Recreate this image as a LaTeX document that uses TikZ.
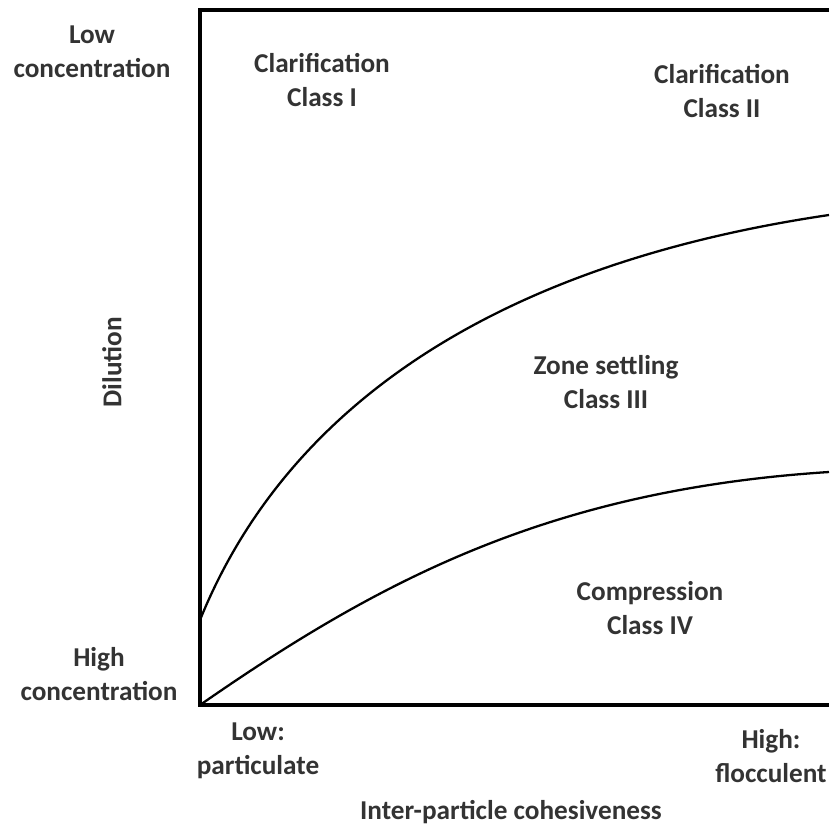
\documentclass[tikz,border=0pt]{standalone}
\usepackage{fontspec}
\setmainfont{Carlito}
\usepackage{tikz}

\begin{document}
\begin{tikzpicture} [
                x=0.02cm,
                y=-0.02cm,
                label text/.style = {font=\bfseries\fontsize{15.5}{19.3}\selectfont,text=black!80,align=center,inner sep=0pt},
                frame/.style = {draw,line width=1.8pt,line join=miter},
                boundary/.style = {draw,line width=1.3pt}
            ]
            \useasboundingbox (0,0) rectangle (829,829);
        % First we draw the frame and the class boundaries
            \coordinate (top right) at (829,10);
            \coordinate (origin) at (200,705);
            \coordinate (bottom right) at (829,705);
            \path[frame] (top right) -| (origin) -- (bottom right);
            \coordinate (upper start) at (200,620);
            \coordinate (upper end) at (829,215);
            \coordinate (lower end) at (829,472);
            \path[boundary] (upper start) .. controls (285,410) and (490,265) .. (upper end);
            \path[boundary] (origin) .. controls (380,580) and (550,490) .. (lower end);
        % Then the labels
            \foreach \pos/\name/\text in {
                {(92,52)/lowconc/Low\\concentration},
                {(322,80)/classI/Clarification\\Class I},
                {(722,91)/classII/Clarification\\Class II},
                {(606,382)/classIII/Zone settling\\Class III},
                {(650,608)/classIV/Compression\\Class IV},
                {(99,674)/highconc/High\\concentration},
                {(258,751)/lowpart/Low:\\particulate},
                {(771,756)/highfloc/High:\\flocculent},
            {(511,812)/cohesion/Inter-particle cohesiveness}}
            \node[label text] (\name) at \pos {\text};
            \node[label text,rotate=90] (dilution) at (112,362) {Dilution};
        \end{tikzpicture}
\end{document}
